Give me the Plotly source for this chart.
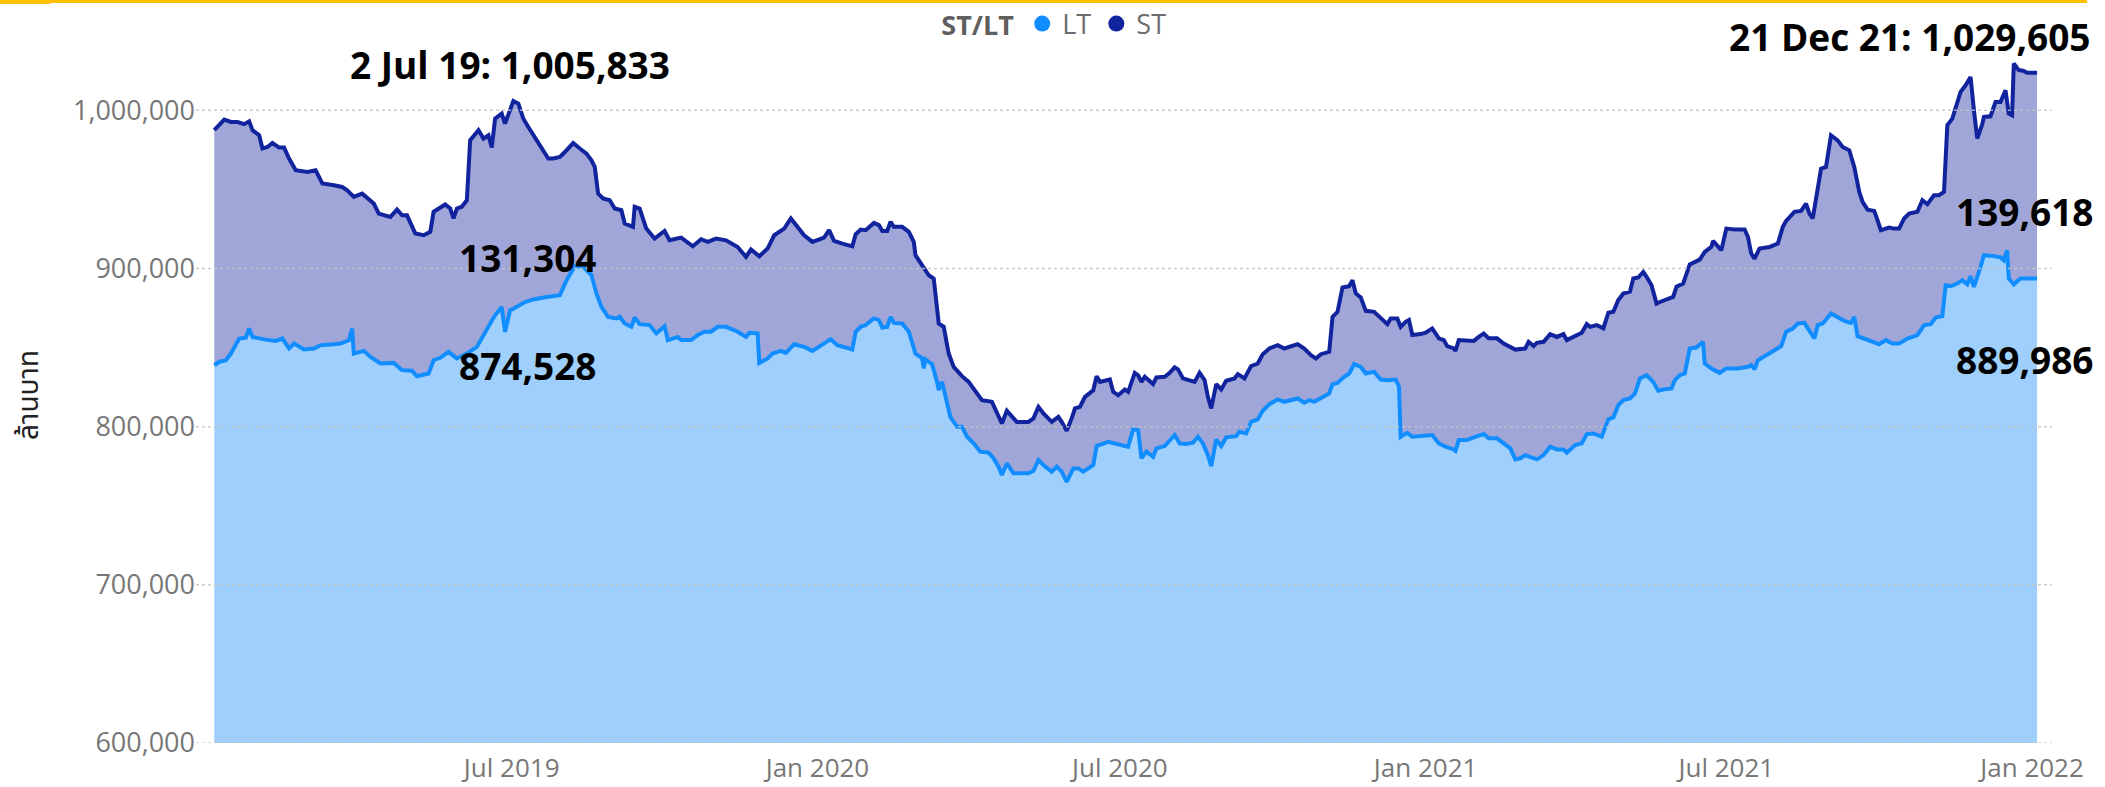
import plotly.graph_objects as go

# ---------------- data ----------------
# top of the stacked area (LT + ST), i.e. the ST line
st_dates = [
    "2019-01-03", "2019-01-06", "2019-01-09", "2019-01-13", "2019-01-17", "2019-01-21", "2019-01-24", "2019-01-26",
    "2019-01-30", "2019-02-01", "2019-02-04", "2019-02-07", "2019-02-11", "2019-02-14", "2019-02-17", "2019-02-21",
    "2019-02-28", "2019-03-05", "2019-03-09", "2019-03-16", "2019-03-21", "2019-03-24", "2019-03-28", "2019-04-02",
    "2019-04-09", "2019-04-12", "2019-04-19", "2019-04-23", "2019-04-26", "2019-04-29", "2019-05-04", "2019-05-09",
    "2019-05-13", "2019-05-15", "2019-05-22", "2019-05-25", "2019-05-27", "2019-05-29", "2019-06-01", "2019-06-04",
    "2019-06-06", "2019-06-11", "2019-06-14", "2019-06-17", "2019-06-19", "2019-06-21", "2019-06-25", "2019-06-27",
    "2019-06-29", "2019-07-02", "2019-07-05", "2019-07-08", "2019-07-11", "2019-07-14", "2019-07-18", "2019-07-23",
    "2019-07-26", "2019-07-30", "2019-08-02", "2019-08-07", "2019-08-11", "2019-08-15", "2019-08-18", "2019-08-20",
    "2019-08-22", "2019-08-25", "2019-08-29", "2019-09-01", "2019-09-05", "2019-09-07", "2019-09-12", "2019-09-13",
    "2019-09-16", "2019-09-20", "2019-09-25", "2019-10-01", "2019-10-04", "2019-10-11", "2019-10-18", "2019-10-23",
    "2019-10-27", "2019-11-01", "2019-11-07", "2019-11-14", "2019-11-19", "2019-11-22", "2019-11-27", "2019-12-02",
    "2019-12-06", "2019-12-12", "2019-12-16", "2019-12-20", "2019-12-24", "2019-12-29", "2020-01-05", "2020-01-08",
    "2020-01-11", "2020-01-16", "2020-01-22", "2020-01-24", "2020-01-27", "2020-01-30", "2020-02-04", "2020-02-07",
    "2020-02-09", "2020-02-12", "2020-02-14", "2020-02-16", "2020-02-21", "2020-02-25", "2020-02-28", "2020-02-29",
    "2020-03-05", "2020-03-08", "2020-03-11", "2020-03-14", "2020-03-17", "2020-03-20", "2020-03-23", "2020-03-28",
    "2020-04-01", "2020-04-05", "2020-04-09", "2020-04-15", "2020-04-18", "2020-04-21", "2020-04-24", "2020-04-30",
    "2020-05-07", "2020-05-10", "2020-05-13", "2020-05-16", "2020-05-21", "2020-05-25", "2020-05-27", "2020-05-30",
    "2020-06-02", "2020-06-04", "2020-06-07", "2020-06-10", "2020-06-15", "2020-06-17", "2020-06-19", "2020-06-25",
    "2020-06-27", "2020-06-30", "2020-07-04", "2020-07-06", "2020-07-10", "2020-07-12", "2020-07-14", "2020-07-16",
    "2020-07-21", "2020-07-23", "2020-07-28", "2020-07-31", "2020-08-03", "2020-08-05", "2020-08-08", "2020-08-12",
    "2020-08-15", "2020-08-18", "2020-08-21", "2020-08-23", "2020-08-25", "2020-08-28", "2020-08-31", "2020-09-03",
    "2020-09-08", "2020-09-10", "2020-09-14", "2020-09-18", "2020-09-22", "2020-09-25", "2020-09-29", "2020-10-04",
    "2020-10-08", "2020-10-16", "2020-10-20", "2020-10-24", "2020-10-27", "2020-10-30", "2020-11-04", "2020-11-06",
    "2020-11-09", "2020-11-12", "2020-11-16", "2020-11-18", "2020-11-20", "2020-11-23", "2020-11-26", "2020-12-01",
    "2020-12-05", "2020-12-09", "2020-12-11", "2020-12-15", "2020-12-17", "2020-12-20", "2020-12-22", "2020-12-24",
    "2020-12-29", "2021-01-01", "2021-01-05", "2021-01-09", "2021-01-12", "2021-01-14", "2021-01-18", "2021-01-19",
    "2021-01-21", "2021-01-30", "2021-02-02", "2021-02-05", "2021-02-08", "2021-02-13", "2021-02-17", "2021-02-21",
    "2021-02-24", "2021-03-02", "2021-03-04", "2021-03-07", "2021-03-09", "2021-03-13", "2021-03-17", "2021-03-21",
    "2021-03-25", "2021-03-27", "2021-03-31", "2021-04-05", "2021-04-08", "2021-04-10", "2021-04-14", "2021-04-18",
    "2021-04-21", "2021-04-24", "2021-04-27", "2021-04-30", "2021-05-04", "2021-05-06", "2021-05-09", "2021-05-12",
    "2021-05-14", "2021-05-17", "2021-05-20", "2021-05-22", "2021-05-30", "2021-06-01", "2021-06-05", "2021-06-09",
    "2021-06-15", "2021-06-18", "2021-06-22", "2021-06-23", "2021-06-28", "2021-07-01", "2021-07-06", "2021-07-12",
    "2021-07-14", "2021-07-16", "2021-07-18", "2021-07-21", "2021-07-27", "2021-08-01", "2021-08-04", "2021-08-06",
    "2021-08-11", "2021-08-15", "2021-08-18", "2021-08-20", "2021-08-22", "2021-08-24", "2021-08-27", "2021-08-30",
    "2021-09-02", "2021-09-06", "2021-09-09", "2021-09-13", "2021-09-16", "2021-09-19", "2021-09-21", "2021-09-24",
    "2021-09-28", "2021-09-30", "2021-10-02", "2021-10-07", "2021-10-10", "2021-10-13", "2021-10-16", "2021-10-19",
    "2021-10-24", "2021-10-27", "2021-10-30", "2021-11-03", "2021-11-06", "2021-11-09", "2021-11-11", "2021-11-14",
    "2021-11-16", "2021-11-19", "2021-11-22", "2021-11-25", "2021-11-27", "2021-11-29", "2021-12-02", "2021-12-03",
    "2021-12-07", "2021-12-10", "2021-12-13", "2021-12-16", "2021-12-18", "2021-12-20", "2021-12-21", "2021-12-24",
    "2021-12-27", "2021-12-29", "2022-01-04",
]
st_top = [
    987400, 991200, 994100, 992600, 992600, 991200, 993000, 987400,
    984200, 975800, 976800, 979300, 976400, 976400, 969500, 962100,
    961000, 962100, 953700, 952600, 951500, 949400, 945200, 947300,
    941000, 934700, 932600, 937200, 933600, 933600, 922100, 921000,
    923100, 935800, 940400, 937900, 931600, 937900, 939000, 943100,
    981000, 987400, 982100, 984200, 976400, 994700, 997900, 991600,
    996800, 1005833, 1004200, 994700, 989400, 984200, 977900, 969500,
    969500, 970500, 973600, 979300, 975800, 972600, 968400, 964200,
    947300, 944200, 943100, 937900, 936800, 928400, 926300, 939000,
    937900, 925200, 918900, 923700, 917800, 919500, 914000, 918500,
    916800, 918900, 917800, 913600, 907300, 912000, 907700, 912600,
    921000, 925200, 931600, 926300, 921000, 916800, 919500, 924200,
    917400, 915700, 914000, 921600, 924600, 924200, 928800, 927400,
    923700, 923700, 929500, 926300, 926300, 923100, 916800, 908400,
    900000, 895700, 893600, 865200, 863100, 846200, 837800, 831900,
    828300, 822000, 816700, 815700, 809400, 802000, 810000, 803000,
    803000, 805200, 812500, 808300, 803000, 806200, 803000, 797400,
    805200, 811500, 812500, 818800, 823000, 831900, 828300, 829800,
    822000, 819900, 823500, 822000, 834000, 832500, 828300, 831500,
    826900, 831100, 831500, 834000, 837500, 836200, 830500, 829400,
    828300, 834000, 829400, 818800, 811500, 826900, 823500, 829000,
    830500, 833200, 830500, 838300, 839900, 845800, 849400, 851500,
    849400, 852100, 849400, 845200, 843100, 845800, 847300, 869400,
    872600, 888000, 888800, 892600, 884200, 881600, 873200, 872600,
    869000, 864800, 868400, 868400, 863100, 866300, 867400, 857900,
    858500, 859400, 862100, 855800, 854700, 850900, 849400, 847900,
    854700, 854200, 856700, 858900, 855800, 855800, 852500, 850000,
    848700, 849400, 853600, 850900, 853000, 853600, 858500, 856700,
    858500, 854700, 856700, 859400, 864800, 863100, 864200, 862100,
    872000, 872600, 880000, 884200, 885300, 893700, 894300, 897800,
    894700, 889400, 877800, 878800, 882000, 888400, 890400, 902600,
    905600, 910400, 913600, 917400, 911500, 925200, 924600, 924600,
    919900, 909400, 906200, 912600, 913600, 915700, 926300, 930100,
    935800, 936400, 941000, 934700, 931600, 943100, 963100, 964200,
    984200, 981000, 976800, 974700, 964200, 948400, 942100, 937200,
    936400, 930500, 924200, 925900, 925200, 925200, 931600, 934700,
    935800, 943100, 940600, 946300, 946300, 948400, 990500, 994700,
    1002100, 1011600, 1015800, 1021100, 1000000, 982100, 991100, 995800,
    996200, 1005200, 1005200, 1012600, 997900, 996800, 1029605, 1025400,
    1024900, 1023700, 1023700,
]

# LT line (bottom area)
lt_dates = [
    "2019-01-03", "2019-01-06", "2019-01-10", "2019-01-13", "2019-01-18", "2019-01-22", "2019-01-24", "2019-01-26",
    "2019-02-03", "2019-02-09", "2019-02-13", "2019-02-17", "2019-02-20", "2019-02-26", "2019-03-04", "2019-03-08",
    "2019-03-16", "2019-03-20", "2019-03-25", "2019-03-27", "2019-03-28", "2019-04-03", "2019-04-07", "2019-04-13",
    "2019-04-21", "2019-04-26", "2019-05-02", "2019-05-05", "2019-05-12", "2019-05-15", "2019-05-19", "2019-05-24",
    "2019-05-29", "2019-06-04", "2019-06-10", "2019-06-16", "2019-06-21", "2019-06-25", "2019-06-27", "2019-06-30",
    "2019-07-02", "2019-07-09", "2019-07-14", "2019-07-22", "2019-07-30", "2019-08-03", "2019-08-08", "2019-08-13",
    "2019-08-18", "2019-08-21", "2019-08-24", "2019-08-28", "2019-09-02", "2019-09-04", "2019-09-07", "2019-09-11",
    "2019-09-13", "2019-09-16", "2019-09-22", "2019-09-26", "2019-10-01", "2019-10-03", "2019-10-09", "2019-10-11",
    "2019-10-17", "2019-10-21", "2019-10-25", "2019-10-29", "2019-11-02", "2019-11-07", "2019-11-14", "2019-11-19",
    "2019-11-21", "2019-11-26", "2019-11-27", "2019-12-02", "2019-12-05", "2019-12-10", "2019-12-13", "2019-12-18",
    "2019-12-24", "2019-12-29", "2020-01-03", "2020-01-09", "2020-01-13", "2020-01-17", "2020-01-22", "2020-01-24",
    "2020-01-27", "2020-01-30", "2020-02-04", "2020-02-07", "2020-02-09", "2020-02-12", "2020-02-14", "2020-02-16",
    "2020-02-21", "2020-02-25", "2020-02-27", "2020-02-29", "2020-03-04", "2020-03-05", "2020-03-06", "2020-03-10",
    "2020-03-13", "2020-03-14", "2020-03-16", "2020-03-18", "2020-03-21", "2020-03-25", "2020-03-28", "2020-03-31",
    "2020-04-04", "2020-04-08", "2020-04-13", "2020-04-16", "2020-04-19", "2020-04-21", "2020-04-24", "2020-04-28",
    "2020-05-07", "2020-05-10", "2020-05-13", "2020-05-16", "2020-05-21", "2020-05-24", "2020-05-27", "2020-05-30",
    "2020-06-03", "2020-06-06", "2020-06-09", "2020-06-15", "2020-06-17", "2020-06-24", "2020-06-27", "2020-07-02",
    "2020-07-06", "2020-07-09", "2020-07-12", "2020-07-14", "2020-07-17", "2020-07-21", "2020-07-23", "2020-07-28",
    "2020-07-31", "2020-08-03", "2020-08-06", "2020-08-10", "2020-08-14", "2020-08-17", "2020-08-20", "2020-08-23",
    "2020-08-25", "2020-08-28", "2020-08-31", "2020-09-03", "2020-09-09", "2020-09-11", "2020-09-15", "2020-09-18",
    "2020-09-22", "2020-09-25", "2020-09-29", "2020-10-04", "2020-10-08", "2020-10-16", "2020-10-20", "2020-10-23",
    "2020-10-26", "2020-10-30", "2020-11-04", "2020-11-06", "2020-11-09", "2020-11-13", "2020-11-16", "2020-11-19",
    "2020-11-23", "2020-11-26", "2020-12-01", "2020-12-05", "2020-12-09", "2020-12-14", "2020-12-16", "2020-12-17",
    "2020-12-21", "2020-12-24", "2020-12-29", "2021-01-01", "2021-01-05", "2021-01-09", "2021-01-13", "2021-01-18",
    "2021-01-19", "2021-01-21", "2021-01-26", "2021-01-30", "2021-02-05", "2021-02-08", "2021-02-13", "2021-02-17",
    "2021-02-21", "2021-02-24", "2021-02-27", "2021-03-02", "2021-03-05", "2021-03-09", "2021-03-13", "2021-03-17",
    "2021-03-21", "2021-03-25", "2021-03-27", "2021-04-01", "2021-04-05", "2021-04-08", "2021-04-12", "2021-04-17",
    "2021-04-21", "2021-04-24", "2021-04-27", "2021-04-30", "2021-05-04", "2021-05-07", "2021-05-10", "2021-05-14",
    "2021-05-18", "2021-05-21", "2021-05-24", "2021-05-29", "2021-05-31", "2021-06-03", "2021-06-06", "2021-06-09",
    "2021-06-13", "2021-06-16", "2021-06-17", "2021-06-18", "2021-06-22", "2021-06-27", "2021-07-01", "2021-07-08",
    "2021-07-14", "2021-07-16", "2021-07-18", "2021-07-20", "2021-07-23", "2021-07-27", "2021-07-30", "2021-08-03",
    "2021-08-06", "2021-08-10", "2021-08-13", "2021-08-17", "2021-08-20", "2021-08-23", "2021-08-25", "2021-08-28",
    "2021-09-02", "2021-09-06", "2021-09-10", "2021-09-14", "2021-09-16", "2021-09-18", "2021-09-22", "2021-09-28",
    "2021-10-01", "2021-10-05", "2021-10-09", "2021-10-13", "2021-10-18", "2021-10-24", "2021-10-28", "2021-11-01",
    "2021-11-04", "2021-11-08", "2021-11-10", "2021-11-13", "2021-11-17", "2021-11-20", "2021-11-23", "2021-11-25",
    "2021-11-27", "2021-12-01", "2021-12-03", "2021-12-09", "2021-12-13", "2021-12-15", "2021-12-17", "2021-12-18",
    "2021-12-20", "2021-12-21", "2021-12-25", "2022-01-04",
]
lt_values = [
    838800, 841000, 842000, 846200, 855700, 856300, 862000, 856700,
    855000, 854200, 855700, 849400, 852500, 848800, 849400, 851500,
    852100, 852500, 854600, 862000, 846200, 847900, 844100, 839900,
    840300, 835700, 835300, 831900, 833600, 842000, 843500, 847300,
    843100, 846200, 850400, 861000, 870500, 875700, 859900, 873600,
    874528, 878800, 880400, 882000, 883100, 892600, 901400, 901000,
    895800, 884200, 875700, 869400, 868400, 869400, 865200, 863100,
    869000, 864800, 864200, 858900, 863500, 854700, 856700, 854700,
    854700, 857900, 860000, 860000, 863100, 863100, 860000, 856700,
    859300, 858900, 840300, 843100, 846200, 847900, 846600, 852100,
    850400, 847900, 851500, 855300, 851500, 850400, 848800, 860000,
    863100, 864200, 868400, 867400, 862700, 863100, 869400, 865600,
    865200, 860000, 853600, 846200, 843100, 836800, 842500, 839500,
    828300, 823100, 828300, 819900, 806200, 800000, 800000, 793700,
    789500, 784200, 783600, 780000, 774700, 769400, 776800, 770500,
    770500, 772100, 778800, 775700, 771500, 774700, 771500, 765100,
    773600, 773600, 771500, 775700, 787700, 790400, 789500, 788300,
    787300, 798300, 797800, 780000, 784200, 781000, 786300, 787700,
    791500, 794700, 789400, 789000, 789800, 793600, 789400, 782000,
    775000, 791900, 787700, 793200, 794000, 796700, 795700, 803000,
    804600, 810000, 814200, 817200, 815700, 817800, 815100, 816800,
    815700, 817800, 821000, 826900, 827700, 831500, 833600, 839500,
    837800, 833600, 834700, 829800, 829400, 829800, 825200, 793600,
    796100, 793600, 794000, 794700, 794700, 789400, 787300, 785600,
    784700, 791500, 791500, 793200, 795300, 792600, 792600, 789400,
    786300, 779300, 780000, 782000, 780600, 779300, 782000, 787300,
    785600, 785600, 783500, 788300, 789400, 795300, 795700, 793600,
    804600, 805800, 813600, 816800, 817800, 821000, 830500, 832500,
    828300, 822700, 823500, 824200, 829400, 832500, 833600, 849400,
    850000, 852500, 853600, 839900, 836800, 834000, 836800, 836800,
    837800, 838900, 836200, 842000, 844100, 846200, 848300, 850900,
    860000, 862000, 865200, 865600, 860600, 855700, 864200, 865200,
    871500, 869400, 866900, 865600, 869400, 857200, 855700, 853600,
    852100, 854700, 852500, 852500, 855700, 857900, 864200, 864800,
    869000, 869900, 889400, 888800, 890500, 892600, 890000, 895100,
    888300, 901000, 908400, 907800, 907000, 905200, 911500, 893700,
    890500, 889986, 893700, 893700,
]

y_ticks = [600000, 700000, 800000, 900000, 1000000]
x_tick_dates = ["2019-07-01", "2020-01-01", "2020-07-01", "2021-01-01", "2021-07-01", "2022-01-01"]
x_tick_text = ["Jul 2019", "Jan 2020", "Jul 2020", "Jan 2021", "Jul 2021", "Jan 2022"]

# point labels: (date, anchor value, text, xanchor, xshift, yshift)
peak_labels = [
    ("2019-07-02", 1005833, "2 Jul 19: 1,005,833", "center", -3, 37),
    ("2019-07-02", 874528, "131,304", "center", 15, 51),
    ("2019-07-02", 874528, "874,528", "center", 15, -57),
    ("2021-12-21", 1029605, "21 Dec 21: 1,029,605", "right", 78, 27),
    ("2021-12-21", 889986, "139,618", "right", 82, 73),
    ("2021-12-21", 889986, "889,986", "right", 82, -75),
]

LT_LINE = "#118DFF"
ST_LINE = "#12239E"
LT_FILL = "#9FD0FD"
ST_FILL = "#A0A7D8"
FONT = "Open Sans, Noto Sans, DejaVu Sans, sans-serif"
THAI_FONT = "Noto Sans Thai, Noto Sans Thai UI, Leelawadee UI, Tahoma, Loma, Garuda, Noto Sans, sans-serif"

fig = go.Figure()
fig.add_trace(go.Scatter(
    x=lt_dates, y=lt_values, name="LT", mode="lines",
    line=dict(color=LT_LINE, width=4), fill="tozeroy", fillcolor=LT_FILL,
    showlegend=False,
))
fig.add_trace(go.Scatter(
    x=st_dates, y=st_top, name="ST", mode="lines",
    line=dict(color=ST_LINE, width=4), fill="tonexty", fillcolor=ST_FILL,
    showlegend=False,
))
# legend entries (round markers like the original)
fig.add_trace(go.Scatter(x=[None], y=[None], mode="markers", name="LT",
                         marker=dict(color=LT_LINE, size=17)))
fig.add_trace(go.Scatter(x=[None], y=[None], mode="markers", name="ST",
                         marker=dict(color=ST_LINE, size=17)))

for d, v, txt, xa, xs, ys in peak_labels:
    fig.add_annotation(x=d, y=v, xref="x", yref="y", text="<b>%s</b>" % txt,
                       showarrow=False, xanchor=xa, yanchor="middle",
                       xshift=xs, yshift=ys,
                       font=dict(family=FONT, size=37, color="#000000"))

# dotted gridlines drawn above the areas (as in the original)
for v in y_ticks:
    fig.add_shape(type="line", xref="paper", yref="y", x0=0, x1=1, y0=v, y1=v,
                  line=dict(color="rgba(195,195,195,0.85)", width=1.5, dash="dot"),
                  layer="above")

# yellow header strip
fig.add_shape(type="rect", xref="paper", yref="paper",
              x0=-0.1056, x1=1.0189, y0=1.0633, y1=1.2,
              line=dict(width=0), fillcolor="#FFC000", layer="above")
fig.add_shape(type="rect", xref="paper", yref="paper",
              x0=-0.1056, x1=-0.0787, y0=1.0618, y1=1.2,
              line=dict(width=0), fillcolor="#FFC000", layer="above")

fig.update_layout(
    width=2105, height=787,
    margin=dict(l=196, r=53, t=47, b=44, autoexpand=False),
    paper_bgcolor="white", plot_bgcolor="white",
    font=dict(family=FONT, color="#777777"),
    showlegend=True,
    legend=dict(
        orientation="h", x=0.463, xanchor="center", y=1.033, yanchor="middle",
        traceorder="normal",
        title=dict(text="<b>ST/LT</b>", font=dict(size=27, color="#5F5F5F")),
        font=dict(size=27, color="#6E6E6E"),
        itemwidth=30, bgcolor="rgba(0,0,0,0)",
    ),
    xaxis=dict(
        type="date", range=["2018-12-23", "2022-01-13"],
        tickvals=x_tick_dates, ticktext=x_tick_text,
        showgrid=False, zeroline=False, showline=False, ticks="",
        tickfont=dict(size=26, color="#777777"), automargin=False,
        ticklabelstandoff=7,
    ),
    yaxis=dict(
        range=[600000, 1040000], tickvals=y_ticks, tickformat=",",
        showgrid=False, zeroline=False, showline=False, ticks="",
        tickfont=dict(size=27, color="#777777"), automargin=False,
        title=dict(text="ล้านบาท", font=dict(family=THAI_FONT, size=28, color="#222222"),
                   standoff=26),
    ),
    hovermode="x unified",
)

fig.write_html("out.html", config={"displayModeBar": False},
               post_script="document.body.style.margin='0';document.body.style.padding='0';")
